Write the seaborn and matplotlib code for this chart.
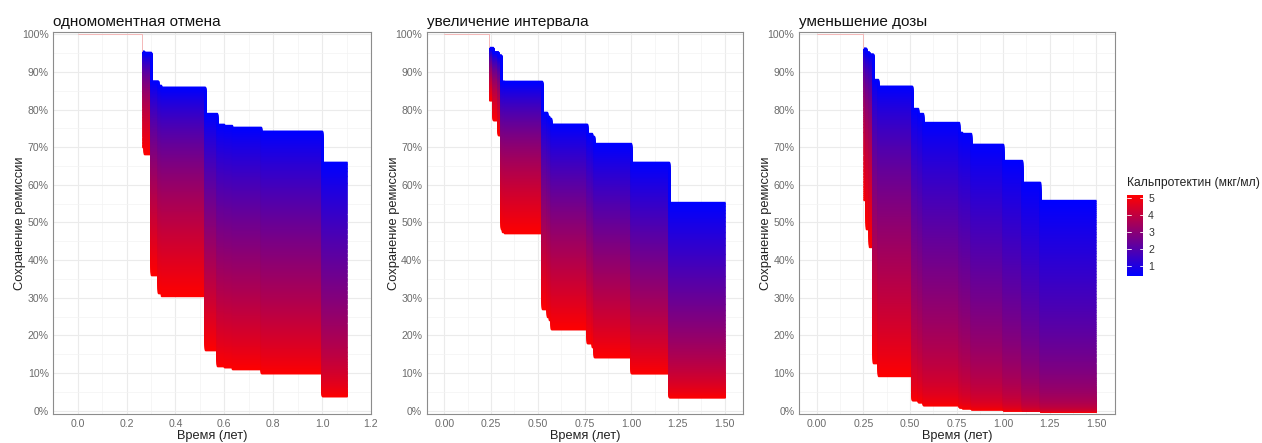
import numpy as np
import pandas as pd
import matplotlib
matplotlib.use("Agg")
import matplotlib.pyplot as plt
import seaborn as sns
from matplotlib.colors import LinearSegmentedColormap, Normalize
from matplotlib.colorbar import ColorbarBase
from matplotlib.ticker import MultipleLocator, PercentFormatter, FormatStrFormatter

# Panel titles (tapering strategy)
titles = ["одномоментная отмена", "увеличение интервала", "уменьшение дозы"]

# Event times (years) and remission retention (%) for the lowest (top curve)
# and the highest (bottom curve) calprotectin level in each strategy
times_abrupt = [0.262, 0.271, 0.30, 0.33, 0.34, 0.52, 0.571, 0.60, 0.632, 0.749, 1.00]
top_abrupt = [95.5, 95.2, 87.7, 86.5, 86.0, 79.0, 76.2, 75.8, 75.4, 74.4, 66.1]
bottom_abrupt = [70.0, 68.2, 36.0, 31.2, 30.6, 16.1, 11.9, 11.5, 11.1, 9.9, 3.9]
end_abrupt = 1.10

times_interval = [0.24, 0.259, 0.287, 0.301, 0.31, 0.32, 0.52, 0.547, 0.56, 0.57,
                  0.761, 0.788, 0.80, 1.00, 1.20]
top_interval = [96.5, 95.4, 94.5, 87.7, 87.6, 87.5, 79.3, 78.3, 77.7, 76.2,
                73.7, 73.0, 71.0, 66.1, 55.4]
bottom_interval = [82.5, 77.2, 73.2, 48.2, 47.6, 47.1, 27.0, 25.0, 24.1, 21.6,
                   17.9, 16.8, 14.2, 9.9, 3.6]
end_interval = 1.50

times_dose = [0.25, 0.262, 0.282, 0.30, 0.328, 0.51, 0.541, 0.571, 0.762, 0.78,
              0.83, 1.00, 1.10, 1.20]
top_dose = [96.3, 95.4, 94.8, 88.0, 86.3, 80.3, 79.0, 76.6, 74.1, 73.7,
            70.9, 66.6, 60.8, 56.0]
bottom_dose = [56.0, 48.2, 43.6, 12.6, 9.3, 2.8, 2.2, 1.5, 0.9, 0.7,
               0.45, 0.2, 0.05, 0.02]
end_dose = 1.50

# Calprotectin scale (mg/ml)
cal_min, cal_max = 0.45, 5.15
cal_ticks = [1, 2, 3, 4, 5]

x_limits = [(-0.1, 1.2), (-0.095, 1.6), (-0.095, 1.6)]
x_steps = [0.2, 0.25, 0.25]
x_formats = ["%.1f", "%.2f", "%.2f"]

panels = [
    (times_abrupt, top_abrupt, bottom_abrupt, end_abrupt),
    (times_interval, top_interval, bottom_interval, end_interval),
    (times_dose, top_dose, bottom_dose, end_dose),
]

sns.set_theme(style="whitegrid")
plt.rcParams["font.family"] = ["Liberation Sans", "DejaVu Sans"]

cmap = LinearSegmentedColormap.from_list("calpro", ["#0000FF", "#FF0000"])
norm = Normalize(cal_min, cal_max)
levels = np.linspace(cal_min, cal_max, 500)


def level_curves(times, top, bottom, end):
    """Proportional-hazards family of step curves between the two bounds."""
    t = np.array(list(times) + [end])
    s_top = np.array(list(top) + [top[-1]]) / 100.0
    s_bot = np.array(list(bottom) + [bottom[-1]]) / 100.0
    ratio = np.log(s_bot) / np.log(s_top)
    frames = []
    for c in levels:
        u = (c - cal_min) / (cal_max - cal_min)
        frames.append(pd.DataFrame({"time": t, "surv": s_top ** (ratio ** u),
                                    "cal": c, "draw_key": -c}))
    return pd.concat(frames, ignore_index=True)


fig = plt.figure(figsize=(12.62, 4.43), dpi=100)
W, H = 1262.0, 443.0
boxes = [(53.3, 371.0), (426.7, 743.3), (799.0, 1115.0)]
top_px, bot_px = 31.7, 414.3

for i, (times, top, bottom, end) in enumerate(panels):
    l, r = boxes[i]
    ax = fig.add_axes([l / W, 1 - bot_px / H, (r - l) / W, (bot_px - top_px) / H])
    ax.set_axisbelow(True)

    df = level_curves(times, top, bottom, end)
    # hue on the negated level so high calprotectin is drawn first and the
    # step drops of the lower levels end up on top
    sns.lineplot(data=df, x="time", y="surv", hue="draw_key", palette=cmap.reversed(),
                 hue_norm=(-cal_max, -cal_min),
                 drawstyle="steps-post", linewidth=1.0, estimator=None, errorbar=None,
                 sort=False, legend=False, ax=ax,
                 solid_capstyle="butt", solid_joinstyle="miter")
    # all curves coincide at 100% before the first event
    ax.plot([0, times[0], times[0]], [1.0, 1.0, top[0] / 100.0],
            color="#f4b8b8", lw=0.7, zorder=3)

    ax.set_xlim(*x_limits[i])
    ax.set_ylim(-0.0096, 1.0069)
    ax.xaxis.set_major_locator(MultipleLocator(x_steps[i]))
    ax.xaxis.set_minor_locator(MultipleLocator(x_steps[i] / 2))
    ax.xaxis.set_major_formatter(FormatStrFormatter(x_formats[i]))
    ax.yaxis.set_major_locator(MultipleLocator(0.1))
    ax.yaxis.set_minor_locator(MultipleLocator(0.05))
    ax.yaxis.set_major_formatter(PercentFormatter(1.0, decimals=0))

    ax.grid(True, which="major", color="#ebebeb", lw=0.8)
    ax.grid(True, which="minor", color="#f3f3f3", lw=0.5)
    for sp in ax.spines.values():
        sp.set_visible(True)
        sp.set_color("#8c8c8c")
        sp.set_linewidth(0.8)
    ax.tick_params(which="major", length=2.5, width=0.6, color="#666666",
                   labelsize=7.6, labelcolor="#6b6b6b", pad=0.8)
    ax.tick_params(which="minor", length=0)

    ax.set_xlabel("Время (лет)", fontsize=9.2, color="#222222", labelpad=1)
    ax.set_ylabel("Сохранение ремиссии", fontsize=9.3, color="#222222", labelpad=-3)
    ax.set_title(titles[i], loc="left", fontsize=11, color="#111111", pad=4)

# Colour bar legend
cax = fig.add_axes([1127.3 / W, 1 - 275.7 / H, 16.0 / W, 80.7 / H])
cb = ColorbarBase(cax, cmap=cmap, norm=norm, ticks=cal_ticks)
cb.outline.set_visible(False)
cax.tick_params(length=0, pad=3.5, labelsize=7.6, labelcolor="#333333")
for tk in cal_ticks:
    cax.plot([0, 0.2], [tk, tk], color="white", lw=0.6)
    cax.plot([0.8, 1], [tk, tk], color="white", lw=0.6)
fig.text(1127.0 / W, 1 - 183.0 / H, "Кальпротектин (мкг/мл)", ha="left", va="center",
         fontsize=8.7, color="#222222")

fig.savefig("out.png", dpi=100)
